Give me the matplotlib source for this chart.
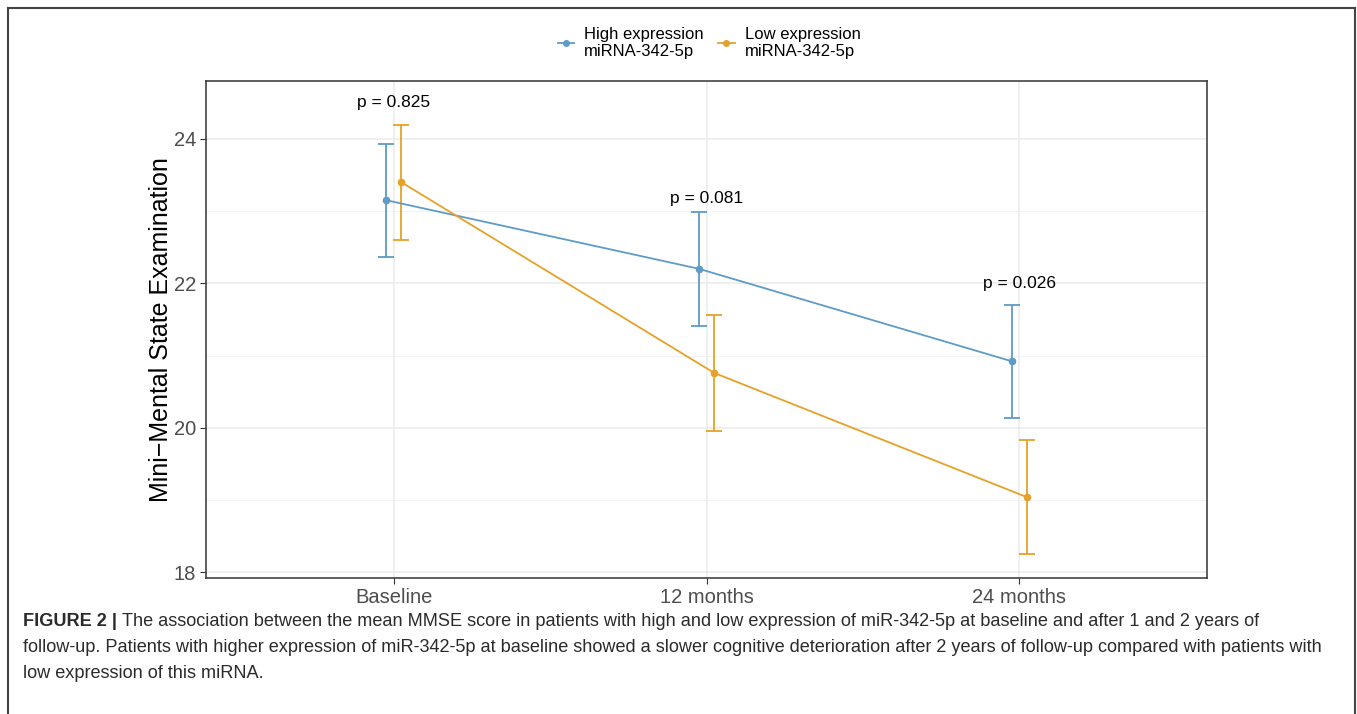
import matplotlib
matplotlib.use("Agg")
import matplotlib.pyplot as plt
from matplotlib.lines import Line2D

plt.rcParams['font.family'] = ['Liberation Sans', 'DejaVu Sans']

# data
timepoints = ["Baseline", "12 months", "24 months"]
high_mean = [23.15, 22.20, 20.92]
high_low = [22.37, 21.41, 20.14]
high_up = [23.93, 22.99, 21.70]
low_mean = [23.40, 20.76, 19.04]
low_low = [22.60, 19.96, 18.25]
low_up = [24.19, 21.56, 19.83]
p_labels = ["p = 0.825", "p = 0.081", "p = 0.026"]
p_y = [24.50, 23.18, 21.99]
series_names = ["High expression\nmiRNA-342-5p", "Low expression\nmiRNA-342-5p"]

BLUE = "#5E9BC6"
ORANGE = "#E6A128"

W, H = 1357, 714
fig = plt.figure(figsize=(W / 100, H / 100), dpi=100)
ax = fig.add_axes([206 / W, 1 - 578 / H, (1207 - 206) / W, (578 - 81) / H])

x = [1, 2, 3]
dodge = 0.024
xh = [v - dodge for v in x]
xl = [v + dodge for v in x]

def draw(xs, m, lo, up, col):
    err = [[a - b for a, b in zip(m, lo)], [b - a for a, b in zip(m, up)]]
    ax.errorbar(xs, m, yerr=err, color=col, lw=1.3, marker='o', ms=4.5,
                capsize=5.5, capthick=1.3, elinewidth=1.3, zorder=3)

draw(xh, high_mean, high_low, high_up, BLUE)
draw(xl, low_mean, low_low, low_up, ORANGE)

for xi, lab, yy in zip(x, p_labels, p_y):
    ax.text(xi, yy, lab, ha='center', va='center', fontsize=12.5, color='black')

ax.set_xlim(0.4, 3.6)
ax.set_ylim(17.92, 24.80)
ax.set_xticks(x)
ax.set_xticklabels(timepoints)
ax.set_yticks([18, 20, 22, 24])
ax.set_yticks([19, 21, 23], minor=True)
ax.grid(True, which='major', color='#EBEBEB', lw=1.1)
ax.grid(True, which='minor', axis='y', color='#F3F3F3', lw=0.7)
ax.set_axisbelow(True)
ax.tick_params(which='major', length=4, color='#333333', labelcolor='#4D4D4D',
               labelsize=14.5, pad=3)
ax.tick_params(which='minor', length=0)
for s in ax.spines.values():
    s.set_color('#333333')
    s.set_linewidth(1.1)
ax.set_ylabel("Mini\u2212Mental State Examination", fontsize=18, labelpad=1)

handles = [Line2D([], [], color=BLUE, marker='o', ms=4, lw=1.3),
           Line2D([], [], color=ORANGE, marker='o', ms=4, lw=1.3)]
fig.legend(handles, series_names, loc='center', bbox_to_anchor=(709 / W, 1 - 43 / H),
           ncol=2, frameon=False, fontsize=12, handlelength=1.0, handletextpad=0.6,
           columnspacing=0.85, labelspacing=0.2)

# outer frame
kw = dict(transform=fig.transFigure, color='#444444', lw=1.5)
fig.add_artist(Line2D([8 / W, 1355 / W], [1 - 8 / H, 1 - 8 / H], **kw))
fig.add_artist(Line2D([8 / W, 8 / W], [1 - 8 / H, 0], **kw))
fig.add_artist(Line2D([1355 / W, 1355 / W], [1 - 8 / H, 0], **kw))

# caption
cap_size = 13.1
cap_col = '#2B2B2B'
bold = fig.text(23 / W, 1 - 622 / H, "FIGURE 2 |", fontsize=cap_size, fontweight='bold',
                color=cap_col, va='center')
fig.canvas.draw()
bb = bold.get_window_extent()
fig.text((bb.x1 + 5) / W, 1 - 622 / H,
         "The association between the mean MMSE score in patients with high and low expression of miR-342-5p at baseline and after 1 and 2 years of",
         fontsize=cap_size, color=cap_col, va='center')
fig.text(23 / W, 1 - 648 / H,
         "follow-up. Patients with higher expression of miR-342-5p at baseline showed a slower cognitive deterioration after 2 years of follow-up compared with patients with",
         fontsize=cap_size, color=cap_col, va='center')
fig.text(23 / W, 1 - 673 / H, "low expression of this miRNA.",
         fontsize=cap_size, color=cap_col, va='center')

fig.savefig("out.png", dpi=100)
